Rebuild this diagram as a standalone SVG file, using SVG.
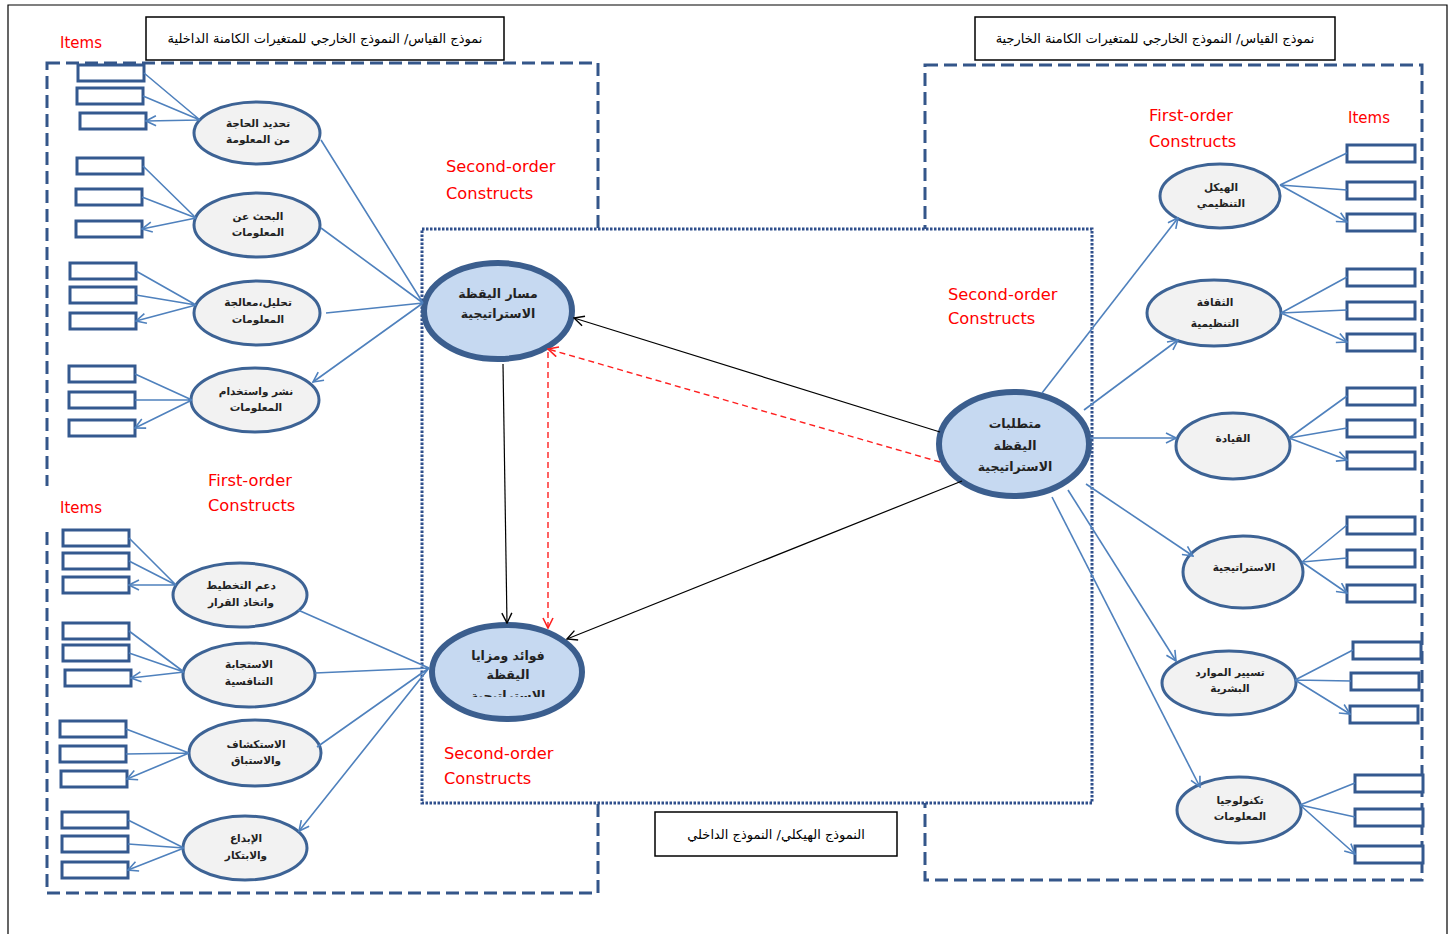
<svg xmlns="http://www.w3.org/2000/svg" width="1452" height="934" viewBox="0 0 1452 934">
  <style>
    .frame { fill: none; stroke: #000; stroke-width: 1.2; }
    .dash { fill: none; stroke: #34568a; stroke-width: 3; stroke-dasharray: 13 6; }
    .dot { fill: #fff; stroke: #2f4f8c; stroke-width: 3; stroke-dasharray: 2.5 1.5; }
    .title { fill: #fff; stroke: #000; stroke-width: 1.5; }
    .titletxt { font-family: "DejaVu Sans", sans-serif; font-size: 13px; fill: #000; text-anchor: middle; }
    .red { font-family: "DejaVu Sans", sans-serif; font-size: 16.3px; fill: #ff0000; }
    .reds { font-family: "DejaVu Sans", sans-serif; font-size: 15px; fill: #ff0000; }
    .item { fill: #fff; stroke: #34598f; stroke-width: 3; }
    .fo { fill: #f2f2f2; stroke: #3d6395; stroke-width: 3; }
    .so { fill: #c6d9f1; stroke: #3b5e8e; stroke-width: 6; }
    .lbl { font-family: "DejaVu Sans", sans-serif; font-size: 10.5px; font-weight: bold; fill: #222; text-anchor: middle; }
    .lblc { font-family: "DejaVu Sans", sans-serif; font-size: 12.5px; font-weight: bold; fill: #222; text-anchor: middle; }
    .blue { fill: none; stroke: #4f81bd; stroke-width: 1.6; marker-end: url(#ab); }
    .black { fill: none; stroke: #000; stroke-width: 1.2; marker-end: url(#ak); }
    .reddash { fill: none; stroke: #ff2020; stroke-width: 1.4; stroke-dasharray: 6 4; marker-end: url(#ar); }
  </style>
  <defs>
    <marker id="ab" viewBox="0 0 12 12" refX="11" refY="6" markerWidth="12" markerHeight="12" markerUnits="userSpaceOnUse" orient="auto">
      <path d="M1,1 L11,6 L1,11" fill="none" stroke="#4f81bd" stroke-width="1.6"/>
    </marker>
    <marker id="ak" viewBox="0 0 12 12" refX="11" refY="6" markerWidth="12" markerHeight="12" markerUnits="userSpaceOnUse" orient="auto">
      <path d="M1,1 L11,6 L1,11" fill="none" stroke="#000" stroke-width="1.4"/>
    </marker>
    <marker id="ar" viewBox="0 0 12 12" refX="11" refY="6" markerWidth="12" markerHeight="12" markerUnits="userSpaceOnUse" orient="auto">
      <path d="M1,1 L11,6 L1,11" fill="none" stroke="#ff2020" stroke-width="1.6"/>
    </marker>
    <clipPath id="clipBenefits">
      <rect x="440" y="640" width="140" height="57"/>
    </clipPath>
  </defs>

  <rect width="1452" height="934" fill="#fff"/>
  <!-- page border -->
  <path class="frame" d="M8,940 L8,5 L1447,5 L1447,940"/>

  <!-- measurement model regions -->
  <rect class="dash" x="47" y="63" width="551" height="830"/>
  <rect class="dash" x="925" y="65" width="497" height="815"/>
  <rect x="43" y="486" width="10" height="44" fill="#fff"/>

  <!-- structural model region -->
  <rect class="dot" x="422" y="229" width="670" height="574"/>

  <!-- title boxes -->
  <g id="title-left">
    <rect class="title" x="146" y="17" width="358" height="43"/>
    <text class="titletxt" x="325" y="43" direction="rtl">نموذج القياس/ النموذج الخارجي للمتغيرات الكامنة الداخلية</text>
  </g>
  <g id="title-right">
    <rect class="title" x="975" y="17" width="360" height="43"/>
    <text class="titletxt" x="1155" y="43" direction="rtl">نموذج القياس/ النموذج الخارجي للمتغيرات الكامنة الخارجية</text>
  </g>
  <g id="title-bottom">
    <rect class="title" x="655" y="812" width="242" height="44"/>
    <text class="titletxt" x="776" y="839" direction="rtl">النموذج الهيكلي/ النموذج الداخلي</text>
  </g>

  <!-- red region labels -->
  <g id="labels">
    <text class="reds" x="60" y="48">Items</text>
    <text class="red" x="446" y="172">Second-order</text>
    <text class="red" x="446" y="199">Constructs</text>
    <text class="red" x="948" y="300">Second-order</text>
    <text class="red" x="948" y="324">Constructs</text>
    <text class="red" x="1149" y="121">First-order</text>
    <text class="red" x="1149" y="147">Constructs</text>
    <text class="reds" x="1348" y="123">Items</text>
    <text class="red" x="208" y="486">First-order</text>
    <text class="red" x="208" y="511">Constructs</text>
    <text class="reds" x="60" y="513">Items</text>
    <text class="red" x="444" y="759">Second-order</text>
    <text class="red" x="444" y="784">Constructs</text>
  </g>

  <!-- item indicators -->
  <g id="items-left">
    <rect class="item" x="78" y="65" width="66" height="16"/>
    <rect class="item" x="77" y="88" width="66" height="16"/>
    <rect class="item" x="80" y="113" width="66" height="16"/>
    <rect class="item" x="77" y="158" width="66" height="16"/>
    <rect class="item" x="76" y="189" width="66" height="16"/>
    <rect class="item" x="76" y="221" width="66" height="16"/>
    <rect class="item" x="70" y="263" width="66" height="16"/>
    <rect class="item" x="70" y="287" width="66" height="16"/>
    <rect class="item" x="70" y="313" width="66" height="16"/>
    <rect class="item" x="69" y="366" width="66" height="16"/>
    <rect class="item" x="69" y="392" width="66" height="16"/>
    <rect class="item" x="69" y="420" width="66" height="16"/>
    <rect class="item" x="63" y="530" width="66" height="16"/>
    <rect class="item" x="63" y="553" width="66" height="16"/>
    <rect class="item" x="63" y="577" width="66" height="16"/>
    <rect class="item" x="63" y="623" width="66" height="16"/>
    <rect class="item" x="63" y="645" width="66" height="16"/>
    <rect class="item" x="65" y="670" width="66" height="16"/>
    <rect class="item" x="60" y="721" width="66" height="16"/>
    <rect class="item" x="60" y="746" width="66" height="16"/>
    <rect class="item" x="61" y="771" width="66" height="16"/>
    <rect class="item" x="62" y="812" width="66" height="16"/>
    <rect class="item" x="62" y="836" width="66" height="16"/>
    <rect class="item" x="62" y="862" width="66" height="16"/>
  </g>
  <g id="items-right">
    <rect class="item" x="1347" y="145" width="68" height="17"/>
    <rect class="item" x="1347" y="182" width="68" height="17"/>
    <rect class="item" x="1347" y="214" width="68" height="17"/>
    <rect class="item" x="1347" y="269" width="68" height="17"/>
    <rect class="item" x="1347" y="302" width="68" height="17"/>
    <rect class="item" x="1347" y="334" width="68" height="17"/>
    <rect class="item" x="1347" y="388" width="68" height="17"/>
    <rect class="item" x="1347" y="420" width="68" height="17"/>
    <rect class="item" x="1347" y="452" width="68" height="17"/>
    <rect class="item" x="1347" y="517" width="68" height="17"/>
    <rect class="item" x="1347" y="550" width="68" height="17"/>
    <rect class="item" x="1347" y="585" width="68" height="17"/>
    <rect class="item" x="1353" y="642" width="68" height="17"/>
    <rect class="item" x="1351" y="673" width="68" height="17"/>
    <rect class="item" x="1350" y="706" width="68" height="17"/>
    <rect class="item" x="1355" y="775" width="68" height="17"/>
    <rect class="item" x="1355" y="809" width="68" height="17"/>
    <rect class="item" x="1355" y="846" width="68" height="17"/>
  </g>

  <!-- left first-order constructs -->
  <g id="need">
    <ellipse class="fo" cx="257" cy="133" rx="63" ry="31"/>
    <text class="lbl" x="258" y="127">تحديد الحاجة</text>
    <text class="lbl" x="258" y="143">من المعلومة</text>
  </g>
  <g id="search">
    <ellipse class="fo" cx="257" cy="225" rx="63" ry="32"/>
    <text class="lbl" x="258" y="220">البحث عن</text>
    <text class="lbl" x="258" y="236">المعلومات</text>
  </g>
  <g id="analysis">
    <ellipse class="fo" cx="257" cy="313" rx="63" ry="32"/>
    <text class="lbl" x="258" y="306">تحليل،معالجة</text>
    <text class="lbl" x="258" y="323">المعلومات</text>
  </g>
  <g id="dissemination">
    <ellipse class="fo" cx="255" cy="400" rx="64" ry="32"/>
    <text class="lbl" x="256" y="395">نشر واستخدام</text>
    <text class="lbl" x="256" y="411">المعلومات</text>
  </g>
  <g id="planning">
    <ellipse class="fo" cx="240" cy="595" rx="67" ry="32"/>
    <text class="lbl" x="241" y="589">دعم التخطيط</text>
    <text class="lbl" x="241" y="606">واتخاذ القرار</text>
  </g>
  <g id="competitive">
    <ellipse class="fo" cx="249" cy="675" rx="66" ry="32"/>
    <text class="lbl" x="249" y="668">الاستجابة</text>
    <text class="lbl" x="249" y="685">التنافسية</text>
  </g>
  <g id="exploration">
    <ellipse class="fo" cx="255" cy="753" rx="66" ry="33"/>
    <text class="lbl" x="256" y="748">الاستكشاف</text>
    <text class="lbl" x="256" y="764">والاستباق</text>
  </g>
  <g id="innovation">
    <ellipse class="fo" cx="245" cy="848" rx="62" ry="32"/>
    <text class="lbl" x="246" y="842">الإبداع</text>
    <text class="lbl" x="246" y="859">والابتكار</text>
  </g>

  <!-- second-order constructs -->
  <g id="process">
    <ellipse class="so" cx="498" cy="311" rx="74" ry="48"/>
    <text class="lblc" x="498" y="298">مسار اليقظة</text>
    <text class="lblc" x="498" y="318">الاستراتيجية</text>
  </g>
  <g id="benefits">
    <ellipse class="so" cx="507" cy="672" rx="75" ry="47"/>
    <text class="lblc" x="508" y="660">فوائد ومزايا</text>
    <text class="lblc" x="508" y="679">اليقظة</text>
    <text class="lblc" x="508" y="700" clip-path="url(#clipBenefits)">الاستراتيجية</text>
  </g>
  <g id="requirements">
    <ellipse class="so" cx="1014" cy="444" rx="75" ry="52"/>
    <text class="lblc" x="1015" y="428">متطلبات</text>
    <text class="lblc" x="1015" y="450">اليقظة</text>
    <text class="lblc" x="1015" y="471">الاستراتيجية</text>
  </g>

  <!-- right first-order constructs -->
  <g id="structure">
    <ellipse class="fo" cx="1220" cy="196" rx="60" ry="32"/>
    <text class="lbl" x="1221" y="191">الهيكل</text>
    <text class="lbl" x="1221" y="207">التنظيمي</text>
  </g>
  <g id="culture">
    <ellipse class="fo" cx="1214" cy="313" rx="67" ry="33"/>
    <text class="lbl" x="1215" y="306">الثقافة</text>
    <text class="lbl" x="1215" y="327">التنظيمية</text>
  </g>
  <g id="leadership">
    <ellipse class="fo" cx="1233" cy="446" rx="57" ry="33"/>
    <text class="lbl" x="1233" y="442">القيادة</text>
  </g>
  <g id="strategy">
    <ellipse class="fo" cx="1243" cy="572" rx="60" ry="36"/>
    <text class="lbl" x="1244" y="571">الاستراتيجية</text>
  </g>
  <g id="hr">
    <ellipse class="fo" cx="1229" cy="683" rx="67" ry="32"/>
    <text class="lbl" x="1230" y="676">تسيير الموارد</text>
    <text class="lbl" x="1230" y="692">البشرية</text>
  </g>
  <g id="it">
    <ellipse class="fo" cx="1239" cy="810" rx="62" ry="33"/>
    <text class="lbl" x="1240" y="804">تكنولوجيا</text>
    <text class="lbl" x="1240" y="820">المعلومات</text>
  </g>

  <!-- connectors (drawn last so arrowheads sit on top of the shapes) -->
  <g id="connectors">
    <!-- left first-order constructs to items -->
    <path class="blue" d="M200,120 L144,73 M200,120 L143,96 M200,120 L146,121"/>
    <path class="blue" d="M196,218 L143,166 M196,218 L142,197 M196,218 L142,229"/>
    <path class="blue" d="M196,305 L136,271 M196,305 L136,295 M196,305 L136,321"/>
    <path class="blue" d="M192,400 L135,374 M192,400 L135,400 M192,400 L135,428"/>
    <path class="blue" d="M176,585 L129,538 M176,585 L129,561 M176,585 L129,585"/>
    <path class="blue" d="M184,672 L129,631 M184,672 L129,653 M184,672 L131,678"/>
    <path class="blue" d="M189,753 L126,729 M189,753 L126,754 M189,753 L127,779"/>
    <path class="blue" d="M184,848 L128,820 M184,848 L128,844 M184,848 L128,870"/>
    <!-- second-order to left first-order -->
    <path class="blue" d="M423,303 L321,140 M423,303 L321,228 M423,303 L326,313 M423,303 L313,382"/>
    <path class="blue" d="M429,668 L298,610 M429,668 L315,673 M429,668 L317,747 M429,668 L299,831"/>
    <!-- requirements to right first-order -->
    <path class="blue" d="M1042,393 L1178,218"/>
    <path class="blue" d="M1084,410 L1178,340"/>
    <path class="blue" d="M1090,438 L1176,438"/>
    <path class="blue" d="M1086,484 L1193,556"/>
    <path class="blue" d="M1068,490 L1176,661"/>
    <path class="blue" d="M1052,497 L1200,787"/>
    <!-- right first-order constructs to items -->
    <path class="blue" d="M1280,185 L1347,153 M1280,185 L1347,190 M1280,185 L1347,222"/>
    <path class="blue" d="M1281,313 L1347,277 M1281,313 L1347,310 M1281,313 L1347,342"/>
    <path class="blue" d="M1289,438 L1347,396 M1289,438 L1347,428 M1289,438 L1347,460"/>
    <path class="blue" d="M1302,562 L1347,525 M1302,562 L1347,558 M1302,562 L1347,593"/>
    <path class="blue" d="M1295,680 L1353,650 M1295,680 L1351,681 M1295,680 L1350,714"/>
    <path class="blue" d="M1300,805 L1355,783 M1300,805 L1355,817 M1300,805 L1355,854"/>
    <!-- structural paths -->
    <path class="black" d="M940,432 L574,318"/>
    <path class="black" d="M962,481 L567,639"/>
    <path class="black" d="M503,364 L507,623"/>
    <path class="reddash" d="M940,462 L548,349"/>
    <path class="reddash" d="M548,352 L548,628"/>
  </g>
</svg>
